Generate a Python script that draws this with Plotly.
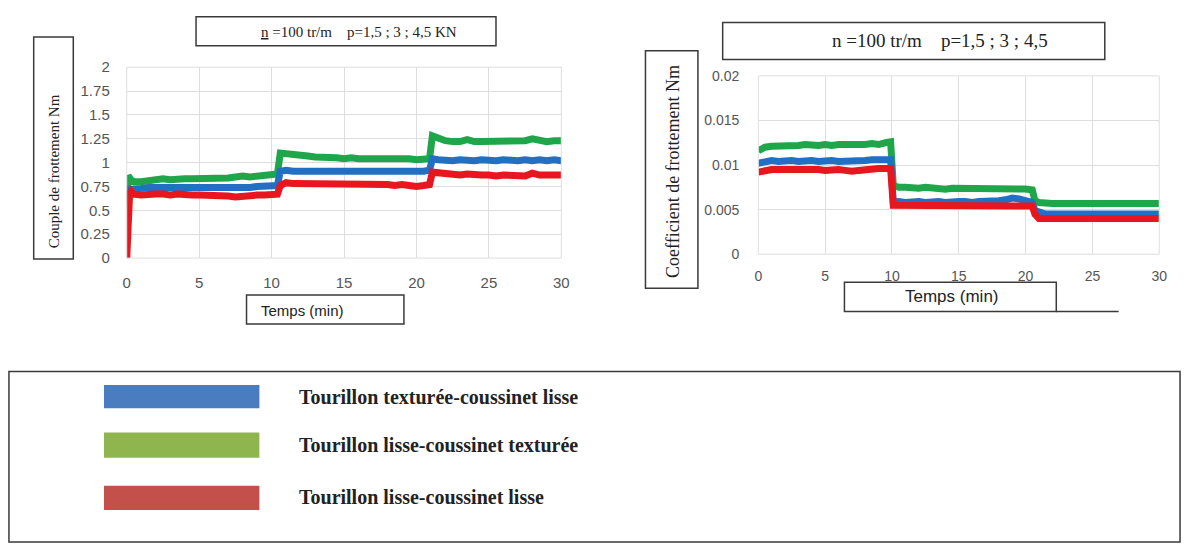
import plotly.graph_objects as go

W, H = 1190, 552

# ---- data ---------------------------------------------------------------
series_names = [
    "Tourillon texturée-coussinet lisse",
    "Tourillon lisse-coussinet texturée",
    "Tourillon lisse-coussinet lisse",
]
line_colors = ["#2170c4", "#1fa64a", "#e8161e"]
legend_colors = ["#4a7dc0", "#8fb54e", "#c4504c"]

# friction torque (Nm) vs time (min)
t_torque = [0, 0.1, 0.2, 0.3, 0.5, 1, 1.5, 2, 2.5, 3, 3.5, 4, 4.5, 5, 5.5, 6, 6.5,
            7, 7.5, 8, 8.5, 9, 9.5, 10, 10.4, 10.6, 11, 11.5, 12, 12.5, 13, 13.5,
            14, 14.5, 15, 15.5, 16, 16.5, 17, 17.5, 18, 18.5, 19, 19.5, 20, 20.5,
            20.9, 21.1, 21.5, 22, 22.5, 23, 23.5, 24, 24.5, 25, 25.5, 26, 26.5,
            27, 27.5, 28, 28.5, 29, 29.5, 30]
torque_textured_journal = [0.55, 0.68, 0.72, 0.72, 0.72, 0.73, 0.74, 0.74, 0.74, 0.73,
                           0.74, 0.74, 0.73, 0.74, 0.74, 0.73, 0.74, 0.73, 0.74, 0.74,
                           0.74, 0.75, 0.75, 0.75, 0.76, 0.91, 0.92, 0.91, 0.91, 0.90,
                           0.91, 0.90, 0.90, 0.91, 0.90, 0.90, 0.91, 0.90, 0.90, 0.91,
                           0.90, 0.91, 0.91, 0.90, 0.91, 0.91, 0.92, 1.04, 1.03, 1.02,
                           1.02, 1.03, 1.02, 1.02, 1.03, 1.02, 1.02, 1.03, 1.02, 1.02,
                           1.03, 1.02, 1.03, 1.02, 1.03, 1.02]
torque_textured_bearing = [0.62, 0.86, 0.84, 0.82, 0.80, 0.80, 0.81, 0.82, 0.83, 0.82,
                           0.83, 0.83, 0.83, 0.83, 0.84, 0.83, 0.84, 0.84, 0.85, 0.86,
                           0.85, 0.86, 0.86, 0.87, 0.88, 1.10, 1.09, 1.08, 1.07, 1.07,
                           1.06, 1.06, 1.05, 1.05, 1.04, 1.05, 1.04, 1.04, 1.05, 1.04,
                           1.04, 1.05, 1.04, 1.04, 1.03, 1.03, 1.04, 1.28, 1.25, 1.23,
                           1.22, 1.22, 1.24, 1.22, 1.22, 1.22, 1.22, 1.22, 1.22, 1.23,
                           1.23, 1.25, 1.23, 1.22, 1.23, 1.23]
torque_smooth = [0.00, 0.55, 0.68, 0.70, 0.67, 0.66, 0.67, 0.67, 0.67, 0.66, 0.67,
                 0.66, 0.66, 0.66, 0.66, 0.65, 0.66, 0.65, 0.64, 0.65, 0.65, 0.66,
                 0.66, 0.67, 0.67, 0.76, 0.79, 0.78, 0.78, 0.77, 0.78, 0.77, 0.77,
                 0.78, 0.77, 0.77, 0.77, 0.78, 0.77, 0.77, 0.77, 0.76, 0.77, 0.76,
                 0.75, 0.76, 0.77, 0.90, 0.89, 0.88, 0.87, 0.87, 0.88, 0.87, 0.87,
                 0.87, 0.86, 0.87, 0.87, 0.87, 0.86, 0.89, 0.87, 0.87, 0.87, 0.87]

# friction coefficient vs time (min)
t_coef = [0, 0.5, 1, 1.5, 2, 2.5, 3, 3.5, 4, 4.5, 5, 5.5, 6, 6.5, 7, 7.5, 8, 8.5,
          9, 9.5, 9.9, 10.1, 10.5, 11, 11.5, 12, 12.5, 13, 13.5, 14, 14.5, 15,
          15.5, 16, 16.5, 17, 17.5, 18, 18.5, 19, 19.5, 20, 20.5, 20.7, 21, 21.5,
          22, 22.5, 23, 23.5, 24, 24.5, 25, 25.5, 26, 26.5, 27, 27.5, 28, 28.5,
          29, 29.5, 30]
coef_textured_journal = [0.0102, 0.0104, 0.0105, 0.0104, 0.0105, 0.0105, 0.0104, 0.0105,
                         0.0105, 0.0104, 0.0105, 0.0105, 0.0104, 0.0104, 0.0105, 0.0105,
                         0.0105, 0.0106, 0.0106, 0.0107, 0.0106, 0.0058, 0.0059, 0.0058,
                         0.0059, 0.0059, 0.0058, 0.0059, 0.0059, 0.0058, 0.0059, 0.0059,
                         0.0059, 0.0058, 0.0059, 0.0059, 0.0060, 0.0060, 0.0061, 0.0063,
                         0.0062, 0.0060, 0.0058, 0.0049, 0.0047, 0.0045, 0.0045, 0.0045,
                         0.0044, 0.0045, 0.0045, 0.0044, 0.0045, 0.0045, 0.0044, 0.0045,
                         0.0045, 0.0044, 0.0045, 0.0045, 0.0044, 0.0045, 0.0045]
coef_textured_bearing = [0.0116, 0.0120, 0.0121, 0.0121, 0.0122, 0.0122, 0.0122, 0.0123,
                         0.0122, 0.0122, 0.0123, 0.0122, 0.0123, 0.0123, 0.0122, 0.0123,
                         0.0123, 0.0124, 0.0123, 0.0125, 0.0126, 0.0077, 0.0075, 0.0075,
                         0.0074, 0.0074, 0.0075, 0.0074, 0.0074, 0.0073, 0.0074, 0.0074,
                         0.0074, 0.0073, 0.0074, 0.0074, 0.0073, 0.0074, 0.0073, 0.0074,
                         0.0073, 0.0073, 0.0072, 0.0060, 0.0058, 0.0057, 0.0057, 0.0057,
                         0.0057, 0.0057, 0.0057, 0.0057, 0.0057, 0.0057, 0.0057, 0.0057,
                         0.0057, 0.0057, 0.0057, 0.0057, 0.0057, 0.0057, 0.0057]
coef_smooth = [0.0092, 0.0094, 0.0095, 0.0095, 0.0095, 0.0096, 0.0095, 0.0095, 0.0095,
               0.0095, 0.0094, 0.0095, 0.0095, 0.0094, 0.0093, 0.0094, 0.0095, 0.0095,
               0.0096, 0.0096, 0.0096, 0.0055, 0.0055, 0.0055, 0.0055, 0.0055, 0.0055,
               0.0055, 0.0055, 0.0054, 0.0055, 0.0055, 0.0055, 0.0055, 0.0055, 0.0054,
               0.0055, 0.0055, 0.0055, 0.0055, 0.0055, 0.0054, 0.0054, 0.0045, 0.0040,
               0.0040, 0.0040, 0.0040, 0.0040, 0.0040, 0.0040, 0.0040, 0.0040, 0.0040,
               0.0040, 0.0040, 0.0040, 0.0040, 0.0040, 0.0040, 0.0040, 0.0040, 0.0040]

x_ticks = [0, 5, 10, 15, 20, 25, 30]
torque_ticks = [0, 0.25, 0.5, 0.75, 1, 1.25, 1.5, 1.75, 2]
torque_tick_text = ["0", "0.25", "0.5", "0.75", "1", "1.25", "1.5", "1.75", "2"]
coef_ticks = [0, 0.005, 0.01, 0.015, 0.02]
coef_tick_text = ["0", "0.005", "0.01", "0.015", "0.02"]

title_left = "<u>n</u> =100 tr/m    p=1,5 ; 3 ; 4,5 KN"
title_right = "n =100 tr/m    p=1,5 ; 3 ; 4,5"
ytitle_left = "Couple de frottement Nm"
ytitle_right = "Coefficient de frottement Nm"
xtitle = "Temps (min)"


# ---- helpers: pixel -> paper coordinates ---------------------------------
def px(x):
    return x / W


def py(y):
    return 1 - y / H


SERIF = "Liberation Serif"
SANS = "Liberation Sans"
BOX = "#3a3a3a"

fig = go.Figure()

torque_series = [torque_textured_journal, torque_textured_bearing, torque_smooth]
coef_series = [coef_textured_journal, coef_textured_bearing, coef_smooth]

# draw order: green at the back, then blue, red on top
for i in [1, 0, 2]:
    fig.add_trace(go.Scatter(x=t_torque, y=torque_series[i], mode="lines",
                             line=dict(color=line_colors[i], width=7),
                             name=series_names[i], showlegend=False,
                             xaxis="x", yaxis="y"))
for i in [1, 0, 2]:
    fig.add_trace(go.Scatter(x=t_coef, y=coef_series[i], mode="lines",
                             line=dict(color=line_colors[i], width=7),
                             name=series_names[i], showlegend=False,
                             xaxis="x2", yaxis="y2"))

grid = "#dedede"
tick_left = dict(family=SANS, size=15, color="#555555")
tick_right = dict(family=SANS, size=14, color="#555555")

fig.update_layout(
    width=W, height=H,
    margin=dict(l=0, r=0, t=0, b=0),
    paper_bgcolor="white", plot_bgcolor="white",
    xaxis=dict(domain=[px(124), px(563)], range=[0, 30], tickvals=x_ticks,
               showgrid=True, gridcolor=grid, zeroline=False, showline=False,
               tickfont=tick_left, ticklabelstandoff=14, anchor="y"),
    yaxis=dict(domain=[py(257), py(60)], range=[0, 2], tickvals=torque_ticks,
               ticktext=torque_tick_text, showgrid=True, gridcolor=grid,
               zeroline=False, showline=False, tickfont=tick_left,
               ticklabelstandoff=16, anchor="x"),
    xaxis2=dict(domain=[px(762), px(1167)], range=[0, 30], tickvals=x_ticks,
                showgrid=True, gridcolor=grid, zeroline=False, showline=False,
                tickfont=tick_right, ticklabelstandoff=12, anchor="y2"),
    yaxis2=dict(domain=[py(253), py(69)], range=[0, 0.02], tickvals=coef_ticks,
                ticktext=coef_tick_text, showgrid=True, gridcolor=grid,
                zeroline=False, showline=False, tickfont=tick_right,
                ticklabelstandoff=18, anchor="x2"),
)

shapes = []


def box(x0, y0, x1, y1, width=1.5):
    shapes.append(dict(type="rect", xref="paper", yref="paper",
                       x0=px(x0), x1=px(x1), y0=py(y1), y1=py(y0),
                       line=dict(color=BOX, width=width), fillcolor="rgba(0,0,0,0)"))


# frame around each plot area (light)
shapes.append(dict(type="rect", xref="paper", yref="paper",
                   x0=px(124), x1=px(563), y0=py(257), y1=py(60),
                   line=dict(color=grid, width=1)))
shapes.append(dict(type="rect", xref="paper", yref="paper",
                   x0=px(762), x1=px(1167), y0=py(253), y1=py(69),
                   line=dict(color=grid, width=1)))

# title / axis-title boxes
box(194, 8, 497, 38)
box(30, 29, 70, 258)
box(245, 295, 404, 325)
box(726, 14, 1112, 52)
box(648, 43, 701, 288)
box(849, 282, 1063, 312)
shapes.append(dict(type="line", xref="paper", yref="paper",
                   x0=px(1063), x1=px(1126), y0=py(312), y1=py(312),
                   line=dict(color=BOX, width=1.5)))

# legend frame and swatches
box(5, 374, 1188, 550)
swatch_rows = [(388, 412), (437, 463), (492, 517)]
for (y0, y1), c in zip(swatch_rows, legend_colors):
    shapes.append(dict(type="rect", xref="paper", yref="paper",
                       x0=px(101), x1=px(258), y0=py(y1), y1=py(y0),
                       line=dict(width=0), fillcolor=c))

annotations = []


def text(x, y, s, size, xanchor="center", angle=0, bold=False, family=SERIF):
    annotations.append(dict(xref="paper", yref="paper", x=px(x), y=py(y),
                            text=f"<b>{s}</b>" if bold else s, showarrow=False,
                            xanchor=xanchor, yanchor="middle", textangle=angle,
                            font=dict(family=family, size=size, color="#222222")))


text(359, 24, title_left, 15)
text(946, 33, title_right, 19)
text(50, 167, ytitle_left, 15, angle=-90)
text(676, 168, ytitle_right, 18, angle=-90)
text(258, 311, xtitle, 15, xanchor="left", family=SANS)
text(958, 297, xtitle, 17, family=SANS)

legend_y = [400, 450, 504]
for name, y in zip(series_names, legend_y):
    text(296, y, name, 20, xanchor="left", bold=True)

fig.update_layout(shapes=shapes, annotations=annotations)

fig.write_html("out.html")
